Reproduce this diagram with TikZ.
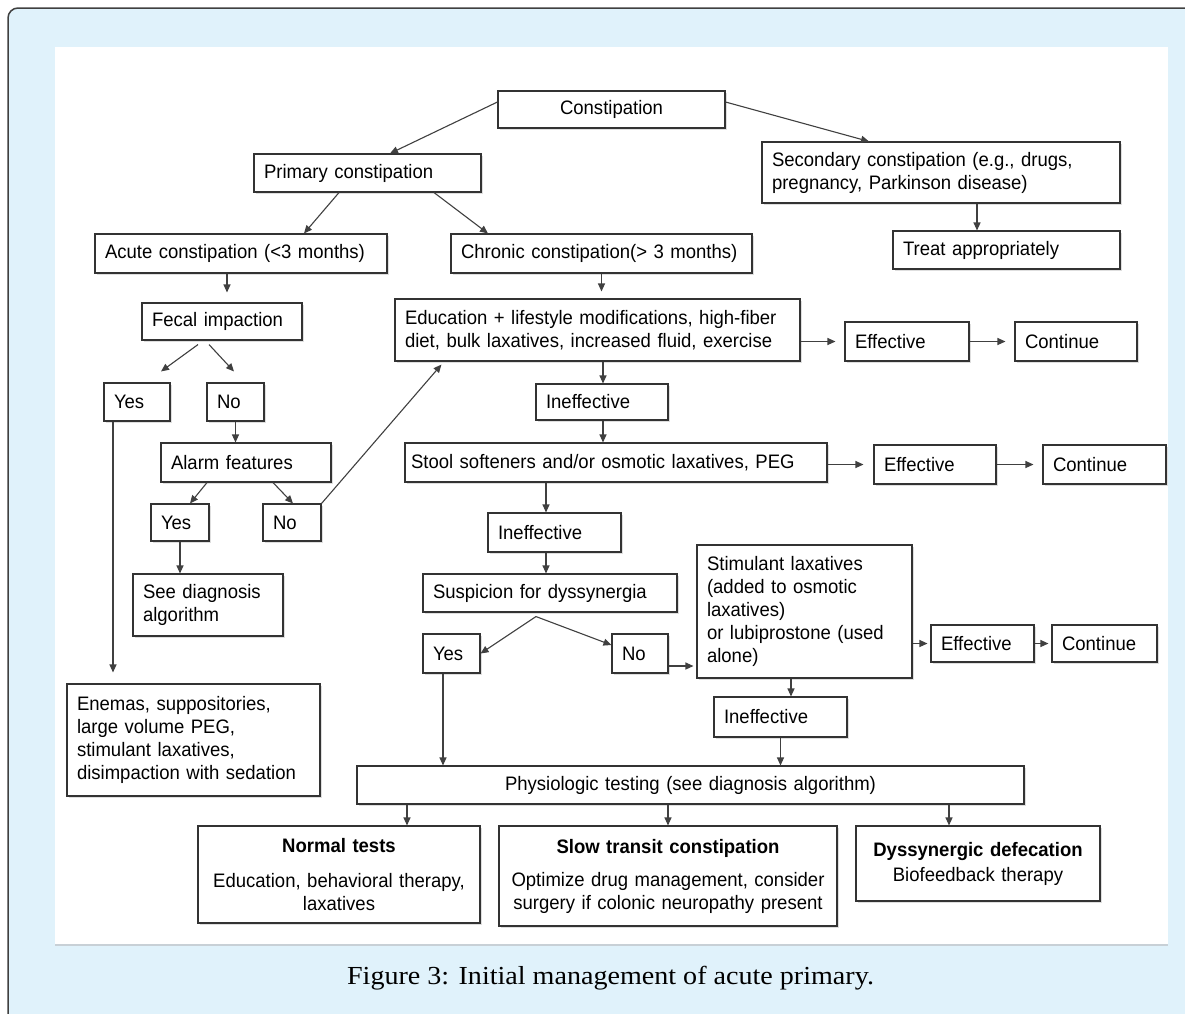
\documentclass[tikz,border=0pt]{standalone}
\usepackage{fontspec}
\setmainfont[FakeStretch=0.95, WordSpace=0.75]{Liberation Sans}
\newfontfamily\capfont[FakeStretch=1.08]{Liberation Serif}
\usetikzlibrary{arrows.meta,shadows}
\definecolor{pageblue}{RGB}{224,242,251}
\definecolor{rulegray}{RGB}{200,208,214}
\tikzset{
  box/.style={draw=black!80, line width=1.1pt, fill=white, inner xsep=10pt, inner ysep=0pt,
    align=left, font=\fontsize{19.5}{23}\selectfont,
    drop shadow={shadow xshift=1.5pt, shadow yshift=-1.5pt, fill=black!25}},
  arr/.style={line width=1.1pt, draw=black!75, -{Triangle[length=8pt,width=7pt]}},
}
\begin{document}
\begin{tikzpicture}[x=1pt,y=-1pt]
    \useasboundingbox (0,0) rectangle (1185,1013);
    \draw[fill=pageblue, draw=black!75, line width=1.5pt, rounded corners=10pt] (8,8) rectangle (1200,1030);
    \fill[white] (55,47) rectangle (1168,945);
    \draw[rulegray, line width=2pt] (55,945) -- (1168,945);
    \node[font=\capfont\fontsize{26}{30}\selectfont] (caption) at (610.5,978) {Figure 3: Initial management of acute primary.};

    \node[box, align=center, text width=207pt, minimum height=37pt] (constip) at (611.5,109.5) {Constipation};
    \node[box, text width=207pt, minimum height=38pt] (primary) at (367.5,173) {Primary constipation};
    \node[box, text width=338pt, minimum height=61pt] (secondary) at (941,172.5) {Secondary constipation (e.g., drugs,\\ pregnancy, Parkinson disease)};
    \node[box, text width=272pt, minimum height=39pt] (acute) at (241,253.5) {Acute constipation (<3 months)};
    \node[box, text width=281pt, minimum height=39pt] (chronic) at (601.5,253.5) {Chronic constipation(> 3 months)};
    \node[box, text width=207pt, minimum height=38pt] (treat) at (1006.5,250) {Treat appropriately};
    \node[box, text width=140pt, minimum height=37pt] (fecal) at (222,321.5) {Fecal impaction};
    \node[box, text width=385pt, minimum height=62pt] (educ) at (597.5,330) {Education + lifestyle modifications, high-fiber\\ diet, bulk laxatives, increased fluid, exercise};
    \node[box, text width=104pt, minimum height=39pt] (eff1) at (907,341.5) {Effective};
    \node[box, text width=102pt, minimum height=39pt] (cont1) at (1076,341.5) {Continue};
    \node[box, text width=46pt, minimum height=38pt] (yes1) at (137,402) {Yes};
    \node[box, text width=37pt, minimum height=38pt] (no1) at (235.5,402) {No};
    \node[box, text width=112pt, minimum height=36pt] (ineff1) at (602,402) {Ineffective};
    \node[box, text width=150pt, minimum height=39pt] (alarm) at (246,462.5) {Alarm features};
    \node[box, inner xsep=6pt, text width=410pt, minimum height=39pt] (stool) at (616,462.5) {Stool softeners and/or osmotic laxatives, PEG};
    \node[box, text width=102pt, minimum height=39pt] (eff2) at (935,464.5) {Effective};
    \node[box, text width=103pt, minimum height=39pt] (cont2) at (1104.5,464.5) {Continue};
    \node[box, text width=38pt, minimum height=37pt] (yes2) at (180,522.5) {Yes};
    \node[box, text width=38pt, minimum height=37pt] (no2) at (292,522.5) {No};
    \node[box, text width=113pt, minimum height=39pt] (ineff2) at (554.5,532.5) {Ineffective};
    \node[box, text width=130pt, minimum height=62pt] (seediag) at (208,605) {See diagnosis\\ algorithm};
    \node[box, text width=234pt, minimum height=38pt] (suspic) at (550,593) {Suspicion for dyssynergia};
    \node[box, text width=195pt, minimum height=133pt] (stim) at (804.5,611.5) {Stimulant laxatives\\ (added to osmotic\\ laxatives)\\ or lubiprostone (used\\ alone)};
    \node[box, text width=37pt, minimum height=39pt] (yes3) at (451.5,653.5) {Yes};
    \node[box, text width=36pt, minimum height=39pt] (no3) at (640,653.5) {No};
    \node[box, text width=83pt, minimum height=37pt] (eff3) at (982.5,643.5) {Effective};
    \node[box, text width=85pt, minimum height=37pt] (cont3) at (1104.5,643.5) {Continue};
    \node[box, text width=113pt, minimum height=40pt] (ineff3) at (780.5,717) {Ineffective};
    \node[box, text width=233pt, minimum height=112pt] (enemas) at (193.5,740) {Enemas, suppositories,\\ large volume PEG,\\ stimulant laxatives,\\ disimpaction with sedation};
    \node[box, align=center, text width=647pt, minimum height=38pt] (physio) at (690.5,785) {Physiologic testing (see diagnosis algorithm)};
    \node[box, align=center, inner xsep=6pt, text width=270pt, minimum height=97pt] (normal) at (339,874.5) {\textbf{Normal tests}\\[12pt] Education, behavioral therapy,\\ laxatives};
    \node[box, align=center, inner xsep=6pt, text width=326pt, minimum height=100pt] (slow) at (668,876) {\textbf{Slow transit constipation}\\[10pt] Optimize drug management, consider\\ surgery if colonic neuropathy present};
    \node[box, align=center, inner xsep=6pt, text width=232pt, minimum height=75pt] (dyss) at (978,863.5) {\textbf{Dyssynergic defecation}\\[2pt] Biofeedback therapy};

    \draw[arr] ([yshift=7.5pt]constip.west) -- ([xshift=22.5pt]primary.north);
    \draw[arr] ([yshift=7.5pt]constip.east) -- ([xshift=-72pt]secondary.north);
    \draw[arr] ([xshift=36pt]secondary.south) -- ([xshift=-29.5pt]treat.north);
    \draw[arr] ([xshift=-28.5pt]primary.south) -- ([xshift=63pt]acute.north);
    \draw[arr] ([xshift=66.5pt]primary.south) -- ([xshift=-113.5pt]chronic.north);
    \draw[arr, shorten >=10pt] ([xshift=-14pt]acute.south) -- ([xshift=5pt]fecal.north);
    \draw[arr, shorten >=7pt] (chronic.south) -- ([xshift=4pt]educ.north);

    \draw[arr] ([xshift=-24pt,yshift=-4pt]fecal.south) -- ([xshift=24pt,yshift=11pt]yes1.north);
    \draw[arr] ([xshift=-13pt,yshift=-4pt]fecal.south) -- ([xshift=-1.5pt,yshift=11pt]no1.north);
    \draw[arr] (no1.south) -- ([xshift=-10.5pt]alarm.north);
    \draw[arr] ([xshift=-39pt]alarm.south) -- ([xshift=10pt]yes2.north);
    \draw[arr] ([xshift=27pt]alarm.south) -- ([xshift=1pt]no2.north);
    \draw[arr] (yes2.south) -- ([xshift=-28pt]seediag.north);
    \draw[arr] (no2.north east) -- ([xshift=47pt,yshift=-3pt]educ.south west);
    \draw[arr, shorten >=11pt] ([xshift=-24pt]yes1.south) -- ([xshift=-80.5pt]enemas.north);

    \draw[arr, shorten >=9pt] ([yshift=-11.5pt]educ.east) -- (eff1.west);
    \draw[arr, shorten >=9pt] (eff1.east) -- (cont1.west);
    \draw[arr] ([xshift=5.5pt]educ.south) -- ([xshift=1pt]ineff1.north);
    \draw[arr] ([xshift=1pt]ineff1.south) -- ([xshift=-13pt]stool.north);
    \draw[arr, shorten >=10pt] ([yshift=-2pt]stool.east) -- (eff2.west);
    \draw[arr, shorten >=9pt] (eff2.east) -- (cont2.west);
    \draw[arr] ([xshift=-70pt]stool.south) -- ([xshift=-8.5pt]ineff2.north);
    \draw[arr] ([xshift=-8.5pt]ineff2.south) -- ([xshift=-4pt]suspic.north);

    \draw[arr] ([xshift=-14pt,yshift=-4pt]suspic.south) -- (yes3.east);
    \draw[arr] ([xshift=-14pt,yshift=-4pt]suspic.south) -- ([yshift=8.5pt]no3.west);
    \draw[arr, shorten >=3pt] ([yshift=-12.5pt]no3.east) -- ([yshift=-54.5pt]stim.west);
    \draw[arr, shorten >=3pt] ([yshift=-32pt]stim.east) -- (eff3.west);
    \draw[arr, shorten >=3pt] (eff3.east) -- (cont3.west);
    \draw[arr] ([xshift=-13.5pt]stim.south) -- ([xshift=10.5pt]ineff3.north);
    \draw[arr] (ineff3.south) -- ([xshift=90pt]physio.north);
    \draw[arr] ([xshift=-8.5pt]yes3.south) -- ([xshift=-247.5pt]physio.north);

    \draw[arr] ([xshift=-283.5pt]physio.south) -- ([xshift=68pt]normal.north);
    \draw[arr] ([xshift=-22.5pt]physio.south) -- (slow.north);
    \draw[arr] ([xshift=258.5pt]physio.south) -- ([xshift=-29pt]dyss.north);
\end{tikzpicture}
\end{document}
